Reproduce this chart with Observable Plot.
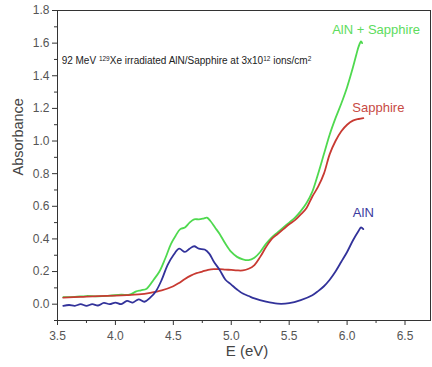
<!DOCTYPE html>
<html>
<head>
<meta charset="utf-8">
<script src="https://cdn.jsdelivr.net/npm/d3@7"></script>
<script src="https://cdn.jsdelivr.net/npm/@observablehq/plot@0.6"></script>
<style>
  html, body { margin: 0; padding: 0; background: #fff; }
  #chart svg { display: block; font-family: "Liberation Sans", Arial, sans-serif; }
</style>
</head>
<body>
<div id="chart"></div>
<script>
// ---- Data ----
const greenE = [3.55,3.65,3.75,3.85,3.95,4.05,4.12,4.18,4.22,4.27,4.33,4.38,4.43,4.48,4.52,4.56,4.60,4.64,4.68,4.72,4.76,4.79,4.82,4.86,4.90,4.95,5.00,5.05,5.10,5.15,5.20,5.25,5.30,5.35,5.40,5.45,5.50,5.55,5.60,5.65,5.70,5.75,5.80,5.85,5.90,5.95,6.00,6.05,6.08,6.10,6.12,6.13];
const greenA = [0.043,0.045,0.050,0.048,0.052,0.058,0.058,0.078,0.085,0.095,0.150,0.200,0.280,0.370,0.420,0.460,0.470,0.500,0.520,0.520,0.525,0.530,0.510,0.470,0.430,0.370,0.320,0.290,0.275,0.270,0.285,0.320,0.370,0.410,0.440,0.470,0.500,0.530,0.570,0.620,0.690,0.800,0.920,1.040,1.140,1.230,1.330,1.450,1.530,1.580,1.610,1.600];

const redE = [3.55,3.70,3.85,4.00,4.10,4.20,4.30,4.40,4.50,4.55,4.60,4.65,4.70,4.75,4.80,4.85,4.90,4.95,5.00,5.05,5.10,5.15,5.20,5.25,5.30,5.35,5.40,5.45,5.50,5.55,5.60,5.65,5.70,5.75,5.80,5.85,5.90,5.95,6.00,6.05,6.10,6.14];
const redA = [0.040,0.045,0.050,0.052,0.055,0.060,0.070,0.085,0.110,0.130,0.155,0.175,0.190,0.200,0.210,0.215,0.215,0.212,0.210,0.207,0.207,0.217,0.240,0.290,0.350,0.400,0.430,0.460,0.490,0.515,0.550,0.590,0.660,0.720,0.800,0.920,1.000,1.060,1.100,1.125,1.135,1.140];

const blueE = [3.55,3.60,3.65,3.70,3.75,3.80,3.85,3.90,3.95,4.00,4.05,4.10,4.15,4.20,4.25,4.30,4.35,4.40,4.45,4.50,4.55,4.60,4.64,4.68,4.72,4.77,4.81,4.85,4.90,4.95,5.00,5.05,5.10,5.15,5.20,5.30,5.40,5.50,5.60,5.70,5.75,5.80,5.85,5.90,5.95,6.00,6.05,6.10,6.12,6.14];
const blueA = [-0.010,-0.005,-0.010,0.000,-0.010,0.000,-0.008,0.008,0.000,0.010,0.000,0.020,0.010,0.030,0.015,0.040,0.080,0.150,0.240,0.300,0.340,0.320,0.340,0.355,0.340,0.335,0.310,0.260,0.210,0.150,0.120,0.090,0.065,0.050,0.035,0.015,0.003,0.006,0.025,0.055,0.080,0.110,0.150,0.200,0.260,0.320,0.390,0.450,0.470,0.460];

const seriesNames = ["AlN + Sapphire", "Sapphire", "AlN"];
const seriesColors = ["#4fd94f", "#c83a32", "#32329a"];
const labelColors = ["#5ddc5d", "#c84a44", "#3a3a9e"];
const labelE = [6.25, 6.27, 6.14];
const labelA = [1.68, 1.205, 0.56];

const xMajor = [3.5, 4.0, 4.5, 5.0, 5.5, 6.0, 6.5];
const xMinor = [3.75, 4.25, 4.75, 5.25, 5.75, 6.25];
const yMajor = [0.0, 0.2, 0.4, 0.6, 0.8, 1.0, 1.2, 1.4, 1.6, 1.8];
const yMinor = [-0.1, 0.1, 0.3, 0.5, 0.7, 0.9, 1.1, 1.3, 1.5, 1.7];

const annotation = {E: 3.54, A: 1.49};

// ---- Build table ----
function rows(E, A, name) { return E.map((e, i) => ({E: e, A: A[i], series: name})); }
const data = [
  ...rows(greenE, greenA, seriesNames[0]),
  ...rows(redE, redA, seriesNames[1]),
  ...rows(blueE, blueA, seriesNames[2])
];
const labels = seriesNames.map((s, i) => ({E: labelE[i], A: labelA[i], name: s, color: labelColors[i]}));

const tickColor = "#555";
const plot = Plot.plot({
  width: 432,
  height: 367,
  marginLeft: 57,
  marginRight: 2,
  marginTop: 10,
  marginBottom: 47,
  style: {fontFamily: "'Liberation Sans', Arial, sans-serif", background: "#fff"},
  x: {domain: [3.5, 6.72]},
  y: {domain: [-0.1, 1.8]},
  color: {domain: seriesNames, range: seriesColors},
  marks: [
    Plot.line(data, {x: "E", y: "A", z: "series", stroke: "series", strokeWidth: 1.8, curve: "catmull-rom"}),
    Plot.frame({stroke: "#333", strokeWidth: 1}),
    Plot.axisY(yMajor, {tickSize: 5, tickPadding: 3, tickFormat: d3.format(".1f"), fontSize: 12, color: tickColor, stroke: "#333", label: null}),
    Plot.axisY(yMinor, {tickSize: 3, tickFormat: () => "", stroke: "#333", label: null}),
    Plot.axisX(xMajor, {tickSize: 5, tickPadding: 6, tickFormat: d3.format(".1f"), fontSize: 12, color: tickColor, stroke: "#333", label: null}),
    Plot.axisX(xMinor, {tickSize: 3, tickFormat: () => "", stroke: "#333", label: null}),
    Plot.text(labels, {x: "E", y: "A", text: "name", fill: "color", fontSize: 13, textAnchor: "middle"}),
    Plot.text(["E (eV)"], {frameAnchor: "bottom", dy: 35, dx: 3, fontSize: 15, fill: "#444"}),
    Plot.text(["Absorbance"], {frameAnchor: "left", rotate: -90, dx: -39, dy: 10, fontSize: 14.5, fill: "#444"})
  ]
});

// Annotation with superscripts, positioned through the plot's scales
const sx = plot.scale("x"), sy = plot.scale("y");
const svg = d3.select(plot);
const t = svg.append("text")
  .attr("x", sx.apply(annotation.E))
  .attr("y", sy.apply(annotation.A))
  .attr("font-size", 10)
  .attr("fill", "#222")
  .attr("text-anchor", "start")
  .attr("dy", "0.32em")
  .attr("font-family", "'Liberation Sans', Arial, sans-serif");
const parts = [["92 MeV ", false], ["129", true], ["Xe irradiated AlN/Sapphire at 3x10", false], ["12", true], [" ions/cm", false], ["2", true]];
for (const [s, sup] of parts) {
  const ts = t.append("tspan").text(s);
  if (sup) ts.attr("font-size", 6.5).attr("baseline-shift", "super");
}
document.getElementById("chart").appendChild(plot);
</script>
</body>
</html>
